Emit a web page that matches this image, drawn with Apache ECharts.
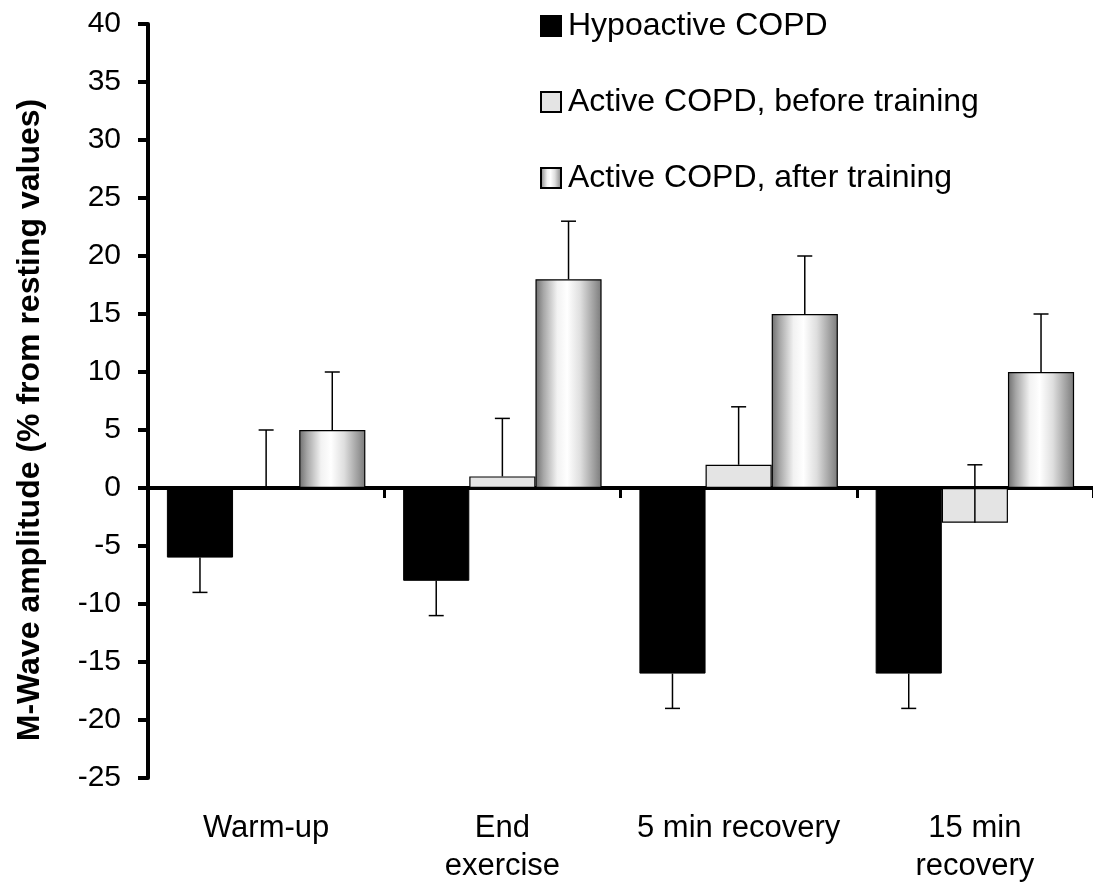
<!DOCTYPE html>
<html>
<head>
<meta charset="utf-8">
<script src="https://cdn.jsdelivr.net/npm/echarts@6/dist/echarts.min.js"></script>
<style>
  html, body { margin: 0; padding: 0; background: #fff; }
  #chart { width: 1093px; height: 888px; }
</style>
</head>
<body>
<div id="chart"></div>
<script>
var categories = ['Warm-up', 'End\nexercise', '5 min recovery', '15 min\nrecovery'];
var seriesNames = ['Hypoactive COPD', 'Active COPD, before training', 'Active COPD, after training'];

// mean values and the end of each error bar
var hypoactive = [-6, -8, -16, -16];
var hypoactiveErr = [-9, -11, -19, -19];
var beforeTraining = [0, 1, 2, -3];
var beforeTrainingErr = [5, 6, 7, 2];
var afterTraining = [5, 18, 15, 10];
var afterTrainingErr = [10, 23, 20, 15];

var yTicks = { min: -25, max: 40, interval: 5 };

var FONT = "'Liberation Sans', Arial, sans-serif";
var BAR_FRAC = 0.28;

var afterGradient = new echarts.graphic.LinearGradient(0, 0, 1, 0, [
  { offset: 0, color: '#6e6e6e' },
  { offset: 0.12, color: '#a6a6a6' },
  { offset: 0.33, color: '#f2f2f2' },
  { offset: 0.48, color: '#ffffff' },
  { offset: 0.68, color: '#dedede' },
  { offset: 0.88, color: '#a0a0a0' },
  { offset: 1, color: '#7a7a7a' }
]);

function errData(vals, ends) {
  return vals.map(function (v, i) { return [i, v, ends[i]]; });
}

// error bar: line from bar end to the whisker end, with a small cap
function errRender(k) {
  return function (params, api) {
    var i = api.value(0);
    var a = api.coord([i, api.value(1)]);
    var b = api.coord([i, api.value(2)]);
    var bw = api.size([1, 0])[0] * BAR_FRAC;
    var x = a[0] + (k - 1) * bw;
    var st = { stroke: '#000', lineWidth: 1.5 };
    return {
      type: 'group',
      children: [
        { type: 'line', shape: { x1: x, y1: a[1], x2: x, y2: b[1] }, style: st },
        { type: 'line', shape: { x1: x - 7.5, y1: b[1], x2: x + 7.5, y2: b[1] }, style: st }
      ]
    };
  };
}

var myChart = echarts.init(document.getElementById('chart'));

var option = {
  animation: false,
  backgroundColor: '#fff',
  textStyle: { fontFamily: FONT, color: '#000' },
  grid: { left: 148, right: 0, top: 24, bottom: 110, containLabel: false },
  legend: {
    orient: 'vertical',
    left: 535,
    top: 5,
    itemWidth: 20,
    itemHeight: 20,
    itemGap: 44,
    icon: 'rect',
    data: seriesNames,
    textStyle: { fontSize: 32, fontFamily: FONT, color: '#000', padding: [0, 0, 0, 2] }
  },
  xAxis: [
    {
      type: 'category',
      data: categories,
      position: 'bottom',
      axisLine: { show: false, onZero: false },
      axisTick: { show: false },
      axisLabel: { interval: 0, fontSize: 31, lineHeight: 38, margin: 31, color: '#000', fontFamily: FONT }
    },
    {
      type: 'category',
      data: categories,
      position: 'bottom',
      axisLine: { show: true, onZero: true, lineStyle: { color: '#000', width: 4 } },
      axisTick: { show: true, length: 10, lineStyle: { color: '#000', width: 3 } },
      axisLabel: { show: false }
    }
  ],
  yAxis: {
    type: 'value',
    min: yTicks.min,
    max: yTicks.max,
    interval: yTicks.interval,
    name: 'M-Wave amplitude (% from resting values)',
    nameLocation: 'middle',
    nameGap: 102,
    nameTextStyle: { fontSize: 32, fontWeight: 'bold', color: '#000', fontFamily: FONT, padding: [0, 38, 0, 0] },
    splitLine: { show: false },
    axisLine: { show: true, lineStyle: { color: '#000', width: 4 } },
    axisTick: { show: true, length: 10, lineStyle: { color: '#000', width: 4 } },
    axisLabel: { fontSize: 30, margin: 27, color: '#000', fontFamily: FONT }
  },
  series: [
    {
      name: seriesNames[0], type: 'bar', data: hypoactive,
      barWidth: (BAR_FRAC * 100) + '%', barGap: '0%',
      itemStyle: { color: '#000', borderColor: '#000', borderWidth: 1 }
    },
    {
      name: seriesNames[1], type: 'bar', data: beforeTraining,
      barWidth: (BAR_FRAC * 100) + '%', barGap: '0%',
      itemStyle: { color: '#e4e4e4', borderColor: '#000', borderWidth: 1.2 }
    },
    {
      name: seriesNames[2], type: 'bar', data: afterTraining,
      barWidth: (BAR_FRAC * 100) + '%', barGap: '0%',
      itemStyle: { color: afterGradient, borderColor: '#000', borderWidth: 1.2 }
    },
    { type: 'custom', renderItem: errRender(0), data: errData(hypoactive, hypoactiveErr), z: 5, silent: true },
    { type: 'custom', renderItem: errRender(1), data: errData(beforeTraining, beforeTrainingErr), z: 5, silent: true },
    { type: 'custom', renderItem: errRender(2), data: errData(afterTraining, afterTrainingErr), z: 5, silent: true }
  ]
};

myChart.setOption(option);
</script>
</body>
</html>
